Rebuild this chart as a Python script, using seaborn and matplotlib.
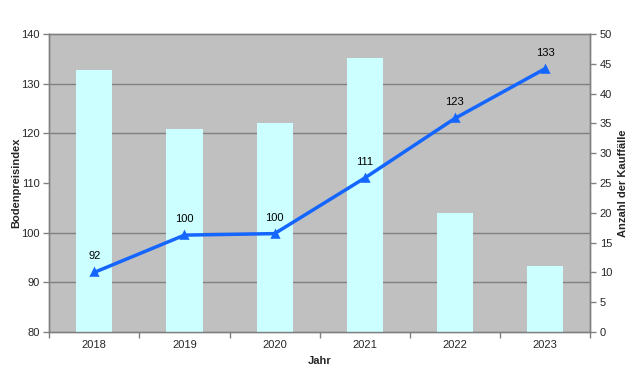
import matplotlib
matplotlib.use("Agg")
import matplotlib.pyplot as plt
from matplotlib.ticker import FixedLocator
import seaborn as sns
import pandas as pd

years = ["2018", "2019", "2020", "2021", "2022", "2023"]
kauffaelle = [44, 34, 35, 46, 20, 11]
preisindex = [92, 99.5, 99.8, 111, 123, 133]
index_ticks = [80, 90, 100, 110, 120, 130, 140]
count_ticks = [0, 5, 10, 15, 20, 25, 30, 35, 40, 45, 50]

GRAY = "#808080"

def plot():
    df = pd.DataFrame({"jahr": years, "anzahl": kauffaelle, "index": preisindex})

    sns.set_style("white")
    plt.rcParams["font.family"] = ["Liberation Sans", "DejaVu Sans"]

    fig, ax_bar = plt.subplots(figsize=(6.4, 3.86), dpi=100)
    fig.subplots_adjust(left=0.077, right=0.922, top=0.912, bottom=0.14)

    # bars -> right axis (Anzahl der Kauffälle)
    sns.barplot(data=df, x="jahr", y="anzahl", ax=ax_bar, color="#CCFFFF",
                saturation=1, width=0.4, edgecolor="none", zorder=3)
    ax_bar.set_facecolor("#C0C0C0")
    ax_bar.set_xlabel("Jahr", fontsize=8, fontweight="bold", labelpad=4)

    # line -> left axis (Bodenpreisindex)
    ax_line = ax_bar.twinx()
    sns.pointplot(data=df, x="jahr", y="index", ax=ax_line, color="#1466FF",
                  markers="^", markersize=5, linewidth=2.5)
    ax_line.yaxis.tick_left()
    ax_line.yaxis.set_label_position("left")
    ax_line.set_ylim(index_ticks[0], index_ticks[-1])
    ax_line.set_yticks(index_ticks)
    ax_line.set_ylabel("Bodenpreisindex", fontsize=8, fontweight="bold", labelpad=0)
    ax_line.set_xlabel("")
    for i, v in enumerate(preisindex):
        ax_line.annotate(f"{v:.0f}", (i, v), xytext=(0, 8), textcoords="offset points",
                         ha="center", va="bottom", fontsize=8, color="black")

    # twinx moved the bar axis ticks to the left, put them back on the right
    ax_bar.yaxis.tick_right()
    ax_bar.yaxis.set_label_position("right")
    ax_bar.set_ylim(0, 50)
    ax_bar.set_yticks(count_ticks)
    ax_bar.set_ylabel("Anzahl der Kauffälle", fontsize=8, fontweight="bold", labelpad=4)

    # horizontal gridlines follow the left (index) scale, drawn under the bars
    grid_pos = [(t - index_ticks[0]) * 50 / (index_ticks[-1] - index_ticks[0]) for t in index_ticks]
    ax_bar.yaxis.set_minor_locator(FixedLocator(grid_pos))
    ax_bar.grid(which="minor", axis="y", color=GRAY, linewidth=1, zorder=1)
    ax_bar.grid(which="major", visible=False)
    ax_bar.tick_params(axis="y", which="minor", length=0, left=False, right=False)
    ax_bar.set_axisbelow(True)

    for a in (ax_bar, ax_line):
        a.set_xlim(-0.5, len(years) - 0.5)
        for s in a.spines.values():
            s.set_color(GRAY)
            s.set_linewidth(1)
        a.tick_params(axis="y", which="major", labelsize=8, length=4, color=GRAY,
                      width=1, pad=3, direction="out")

    # x ticks: labels centred, tick marks between categories
    ax_bar.set_xticks(range(len(years)))
    ax_bar.set_xticklabels(years)
    ax_bar.tick_params(axis="x", which="major", length=0, labelsize=8, pad=6)
    ax_bar.xaxis.set_minor_locator(FixedLocator([i - 0.5 for i in range(len(years) + 1)]))
    ax_bar.tick_params(axis="x", which="minor", length=4, color=GRAY, width=1,
                       direction="out", bottom=True)

    fig.savefig("out.png", dpi=100, facecolor="white")

if __name__ == "__main__":
    plot()
